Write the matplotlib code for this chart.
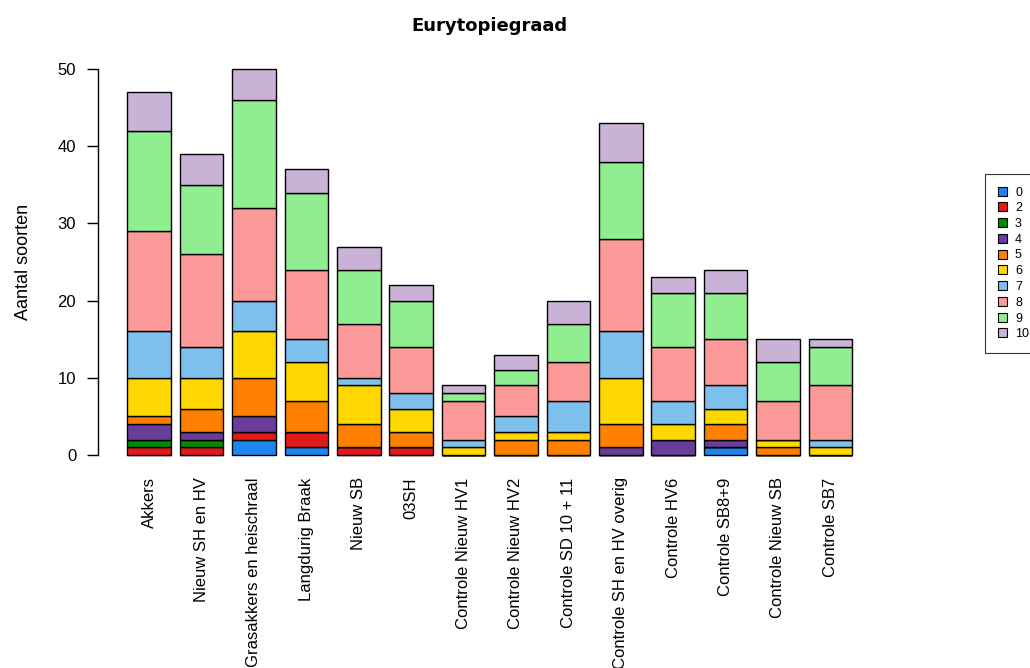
import numpy as np
import matplotlib
matplotlib.use('Agg')
import matplotlib.pyplot as plt
from matplotlib.patches import Patch

plt.rcParams['font.family'] = ['Liberation Sans', 'DejaVu Sans']

# data: number of species per eurytopy class (0, 2, ..., 10) per area
groups = ['Akkers', 'Nieuw SH en HV', 'Grasakkers en heischraal', 'Langdurig Braak',
          'Nieuw SB', '03SH', 'Controle Nieuw HV1', 'Controle Nieuw HV2',
          'Controle SD 10 + 11', 'Controle SH en HV overig', 'Controle HV6',
          'Controle SB8+9', 'Controle Nieuw SB', 'Controle SB7']
classes = ['0', '2', '3', '4', '5', '6', '7', '8', '9', '10']

v0 = [0, 0, 2, 1, 0, 0, 0, 0, 0, 0, 0, 1, 0, 0]
v2 = [1, 1, 1, 2, 1, 1, 0, 0, 0, 0, 0, 0, 0, 0]
v3 = [1, 1, 0, 0, 0, 0, 0, 0, 0, 0, 0, 0, 0, 0]
v4 = [2, 1, 2, 0, 0, 0, 0, 0, 0, 1, 2, 1, 0, 0]
v5 = [1, 3, 5, 4, 3, 2, 0, 2, 2, 3, 0, 2, 1, 0]
v6 = [5, 4, 6, 5, 5, 3, 1, 1, 1, 6, 2, 2, 1, 1]
v7 = [6, 4, 4, 3, 1, 2, 1, 2, 4, 6, 3, 3, 0, 1]
v8 = [13, 12, 12, 9, 7, 6, 5, 4, 5, 12, 7, 6, 5, 7]
v9 = [13, 9, 14, 10, 7, 6, 1, 2, 5, 10, 7, 6, 5, 5]
v10 = [5, 4, 4, 3, 3, 2, 1, 2, 3, 5, 2, 3, 3, 1]

series = [v0, v2, v3, v4, v5, v6, v7, v8, v9, v10]
colors = ['#1C86EE', '#E31A1C', '#008B00', '#6A3D9A', '#FF7F00',
          '#FFD700', '#7EC0EE', '#FB9A99', '#90EE90', '#CAB2D6']

fig = plt.figure(figsize=(10.30, 6.68), dpi=100)
ax = fig.add_axes([0.0955, 0.2958, 0.760, 0.624])

x = np.arange(len(groups))
bottom = np.zeros(len(groups))
for vals, col in zip(series, colors):
    ax.bar(x, vals, width=0.83, bottom=bottom, color=col,
           edgecolor='black', linewidth=1.0)
    bottom += np.array(vals)

ax.set_xlim(-0.97, len(groups) - 1 + 0.97)
ax.set_ylim(-2, 52)

for s in ['top', 'right', 'bottom']:
    ax.spines[s].set_visible(False)
ax.spines['left'].set_bounds(0, 50)
ax.spines['left'].set_linewidth(1.0)

ax.set_yticks(range(0, 51, 10))
ax.tick_params(axis='y', length=8, width=1.0, pad=8, labelsize=12)
ax.set_xticks(x)
ax.set_xticklabels(groups, rotation=90, fontsize=12)
ax.tick_params(axis='x', length=0, pad=5)

ax.set_ylabel('Aantal soorten', fontsize=13)
ax.yaxis.set_label_coords(-0.085, 0.5)
ax.set_title('Eurytopiegraad', fontsize=13, fontweight='bold', pad=16,
             family='DejaVu Sans')

# legend sits at the right edge, box runs off the figure like the original
handles = [Patch(facecolor=c, edgecolor='black', linewidth=0.8) for c in colors]
leg = fig.legend(handles, classes, loc='upper left',
                 bbox_to_anchor=(985 / 1030, 1 - 174 / 668),
                 fontsize=9, frameon=True, fancybox=False, borderpad=1.0,
                 labelspacing=0.3, handlelength=0.75, handleheight=0.75,
                 handletextpad=0.65, borderaxespad=0)
leg.get_frame().set_edgecolor('black')
leg.get_frame().set_linewidth(0.8)

fig.savefig('out.png', dpi=100)
